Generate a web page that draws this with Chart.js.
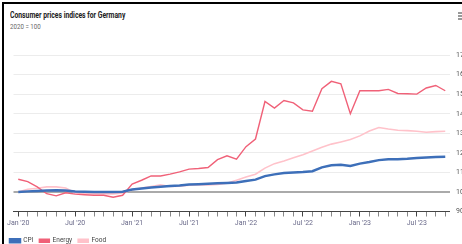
<!DOCTYPE html>
<html>
<head>
<meta charset="utf-8">
<script src="https://cdn.jsdelivr.net/npm/chart.js@4.4.0/dist/chart.umd.min.js"></script>
<style>
  html, body { margin: 0; padding: 0; background: #fff; overflow: hidden; width: 462px; height: 244px; }
  #frame { position: absolute; left: 2px; top: 2px; width: 470px; height: 250px; border-left: 2px solid #000; border-top: 2px solid #000; }
  #title { position: absolute; left: 10px; top: 10px; font: bold 8.5px Roboto, sans-serif; color: #222; transform: scaleX(0.8); transform-origin: 0 0; white-space: nowrap; }
  #sub { position: absolute; left: 10px; top: 23px; font: 7px Roboto, sans-serif; color: #666; transform: scaleX(0.88); transform-origin: 0 0; white-space: nowrap; }
  #menu { position: absolute; left: 458px; top: 12px; width: 6px; height: 8px; background: repeating-linear-gradient(#999 0 2px, #fff 2px 3px); }
  #wrap { position: absolute; left: 4px; top: 45px; }
</style>
</head>
<body>
<div id="frame"></div>
<div id="title">Consumer prices indices for Germany</div>
<div id="sub">2020 = 100</div>
<div id="menu"></div>
<div id="wrap"><canvas id="cpiChart" width="476" height="209"></canvas></div>
<script>
const months = [
  "Jan '20","Feb '20","Mar '20","Apr '20","May '20","Jun '20","Jul '20","Aug '20","Sep '20","Oct '20","Nov '20","Dec '20",
  "Jan '21","Feb '21","Mar '21","Apr '21","May '21","Jun '21","Jul '21","Aug '21","Sep '21","Oct '21","Nov '21","Dec '21",
  "Jan '22","Feb '22","Mar '22","Apr '22","May '22","Jun '22","Jul '22","Aug '22","Sep '22","Oct '22","Nov '22","Dec '22",
  "Jan '23","Feb '23","Mar '23","Apr '23","May '23","Jun '23","Jul '23","Aug '23","Sep '23","Oct '23"
];

const cpi = [
  100, 100.3, 100.5, 100.8, 100.9, 100.8, 100.2, 100.1, 100, 100, 100, 100.1,
  101.3, 101.8, 102.3, 102.7, 103, 103.3, 103.8, 104, 104.2, 104.4, 104.6, 104.9,
  105.6, 106.3, 108.1, 109, 109.7, 110, 110.2, 110.6, 112.6, 113.7, 113.9, 113.3,
  114.5, 115.3, 116.3, 116.8, 116.8, 117, 117.4, 117.7, 117.9, 118
];

const energy = [
  106.5, 105.3, 102.6, 99.1, 98, 99.6, 98.9, 98.6, 98.3, 98.3, 97.3, 98.3,
  104, 106, 108.2, 108.2, 109.1, 110.3, 111.7, 112, 112.5, 116.5, 118.5, 116.8,
  123.2, 127.1, 146.3, 142.9, 146.8, 145.6, 142, 141.3, 152.9, 156.6, 155.4, 140,
  151.8, 151.8, 151.8, 152.5, 150.4, 150.3, 150.1, 153.2, 154.5, 151.8
];

const food = [
  100, 101.4, 101.9, 102.6, 102.6, 102, 99.5, 99.3, 99.1, 99, 99, 99.5,
  101, 102, 102.8, 103.6, 102.8, 103, 103.4, 103.6, 103.6, 103.9, 104.5, 106,
  107.6, 109.1, 112.2, 114.5, 115.9, 117.5, 119.1, 121, 122.9, 124.5, 125.6, 126.8,
  128.7, 131.2, 133, 132.2, 131.6, 131.4, 131.1, 130.6, 130.9, 131.1
];

const yTicks = [90, 100, 110, 120, 130, 140, 150, 160, 170];

const font = "Roboto, sans-serif";

new Chart(document.getElementById('cpiChart'), {
  type: 'line',
  data: {
    labels: months,
    datasets: [
      { label: 'CPI', data: cpi, borderColor: '#3d6fb9', backgroundColor: '#3d6fb9', borderWidth: 2.5, pointRadius: 0, tension: 0 },
      { label: 'Energy', data: energy, borderColor: '#f06178', backgroundColor: '#f06178', borderWidth: 1.4, pointRadius: 0, tension: 0 },
      { label: 'Food', data: food, borderColor: '#ffc2ca', backgroundColor: '#ffc2ca', borderWidth: 1.6, pointRadius: 0, tension: 0 }
    ]
  },
  options: {
    responsive: false,
    animation: false,
    layout: { padding: { left: 0, top: 10, right: 0, bottom: 0 } },
    plugins: {
      tooltip: { enabled: false },
      legend: {
        position: 'bottom',
        align: 'start',
        labels: { boxWidth: 10, boxHeight: 3, padding: 6, color: '#444', font: { family: font, size: 6.5 } }
      }
    },
    scales: {
      x: {
        offset: true,
        grid: {
          offset: false, drawOnChartArea: false, drawTicks: true, tickLength: 5,
          tickColor: c => c.index % 6 === 0 ? '#444' : '#888'
        },
        border: { color: '#444', width: 1 },
        ticks: {
          autoSkip: false, maxRotation: 0, padding: 3, color: '#6a6a8a',
          font: { family: font, size: 7 },
          callback: function (v, i) { return (i % 6 === 0) ? months[i] : ''; }
        },
        afterFit: function (s) { s.height = 20; }
      },
      y: {
        position: 'right',
        min: 90, max: 170,
        afterBuildTicks: function (s) { s.ticks = yTicks.map(v => ({ value: v })); },
        border: { display: false },
        grid: {
          drawTicks: false,
          color: c => c.tick && c.tick.value === 100 ? '#aaaaaa' : '#ececec',
          lineWidth: c => c.tick && c.tick.value === 100 ? 2 : 1
        },
        ticks: { padding: 6, color: '#555', font: { family: font, size: 7 } },
        afterFit: function (s) { s.width = 30; }
      },
      yl: {
        position: 'left',
        display: true,
        border: { display: false },
        grid: { display: false },
        ticks: { display: false },
        afterFit: function (s) { s.width = 6; }
      }
    }
  }
});
</script>
</body>
</html>
